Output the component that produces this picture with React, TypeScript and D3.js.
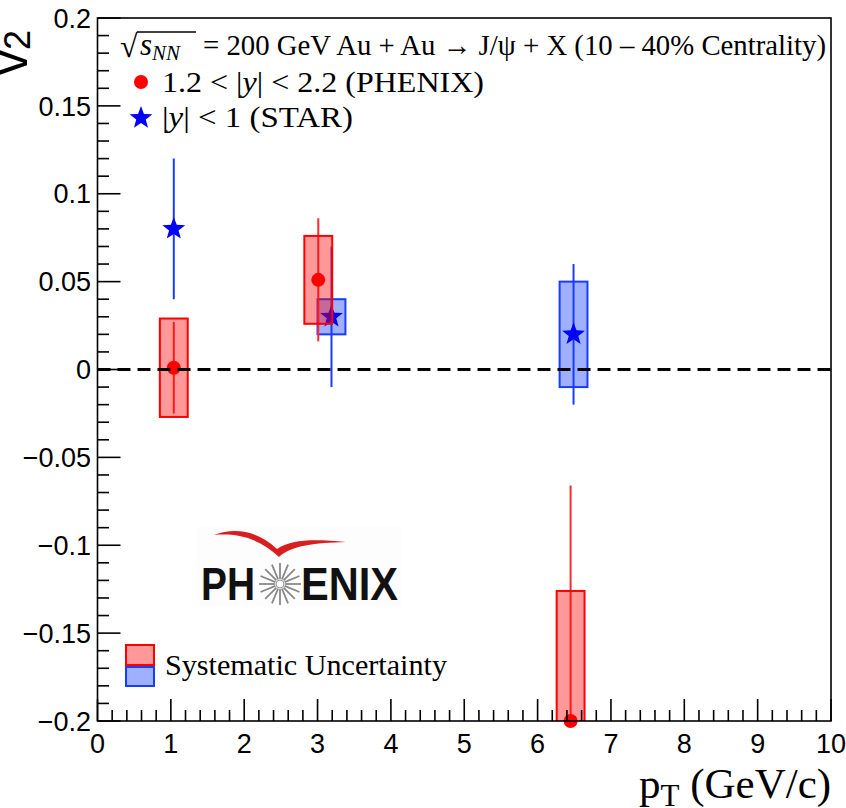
import React from "react";
import * as d3 from "d3";

// ---- data ----
const phenixPt = [1.04, 3.01, 6.45];
const phenixV2 = [0.001, 0.051, -0.2];
const phenixStat = [0.026, 0.035, 0.134];
const phenixSys = [0.028, 0.025, 0.074];

const starPt = [1.04, 3.19, 6.49];
const starV2 = [0.08, 0.03, 0.02];
const starStat = [0.04, 0.04, 0.04];
const starSys = [0, 0.01, 0.03];

const xDomain = [0, 10];
const yDomain = [-0.2, 0.2];

const titleText = "= 200 GeV Au + Au \u2192 J/\u03C8 + X (10 \u2013 40% Centrality)";
const phenixLabel = "(PHENIX)";
const starLabel = "(STAR)";
const sysLabel = "Systematic Uncertainty";
const xTitle = "(GeV/c)";

const W = 846;
const H = 808;
const L = 97.5, R = 831, T = 18, B = 721;
const BOX_HW = 0.19;

const sans = "'Liberation Sans', Arial, Helvetica, sans-serif";
const serif = "'Liberation Serif', 'Times New Roman', serif";

function starPath(cx: number, cy: number, ro: number, ri: number) {
  const pts: [number, number][] = [];
  for (let i = 0; i < 10; i++) {
    const r = i % 2 === 0 ? ro : ri;
    const a = -Math.PI / 2 + (i * Math.PI) / 5;
    pts.push([cx + r * Math.cos(a), cy + r * Math.sin(a)]);
  }
  return d3.line()(pts) + "Z";
}

export default function App() {
  const x = d3.scaleLinear().domain(xDomain).range([L, R]);
  const y = d3.scaleLinear().domain(yDomain).range([B, T]);

  const yMajor = y.ticks(8);
  const yMinor = y.ticks(40);
  const xMajor = x.ticks(10);
  const xMinor = x.ticks(50);
  const fmt = (v: number) => {
    const s = String(+v.toFixed(3));
    return s.startsWith("-") ? "\u2212" + s.slice(1) : s;
  };
  const isMajor = (v: number, step: number) => Math.abs(v / step - Math.round(v / step)) < 1e-6;

  const redFill = "rgba(255,0,0,0.4)";
  const blueFill = "rgba(40,80,255,0.45)";
  const blueLine = "#1a3cff";

  const spokes = d3.range(16).map((i) => (i * Math.PI * 2) / 16);

  return (
    <svg width={W} height={H} style={{ position: "absolute", left: 0, top: 0, background: "#fff" }}>
      <defs>
        <clipPath id="plotclip">
          <rect x={L} y={T} width={R - L} height={B - T} />
        </clipPath>
      </defs>
      <rect x={0} y={0} width={W} height={H} fill="#fff" />

      {/* PHENIX logo */}
      <g>
        <rect x={197} y={527} width={204} height={80} fill="#fdfdfd" />
        <path
          d="M214,535 C235,527 258,531 277,549 C291,539 315,539 346,542 C315,543 292,545 279,557 C258,537 235,533 214,535 Z"
          fill="#d81e1e"
        />
        <text x={201} y={600} fontFamily={sans} fontWeight="bold" fontSize={46} textLength={54} lengthAdjust="spacingAndGlyphs" fill="#111">PH</text>
        {spokes.map((a, i) => (
          <line key={i} x1={280 + 5 * Math.cos(a)} y1={584 + 5 * Math.sin(a)} x2={280 + 21 * Math.cos(a)} y2={584 + 21 * Math.sin(a)} stroke="#8a8a8a" strokeWidth={1.8} />
        ))}
        <circle cx={280} cy={584} r={4} fill="#fff" stroke="#999" strokeWidth={1} />
        <text x={301} y={600} fontFamily={sans} fontWeight="bold" fontSize={46} textLength={97} lengthAdjust="spacingAndGlyphs" fill="#111">ENIX</text>
      </g>

      {/* STAR (drawn first) */}
      <g clipPath="url(#plotclip)">
        {starPt.map((p, i) =>
          starSys[i] > 0 ? (
            <rect key={"sb" + i} x={x(p - BOX_HW)} y={y(starV2[i] + starSys[i])} width={x(p + BOX_HW) - x(p - BOX_HW)} height={y(starV2[i] - starSys[i]) - y(starV2[i] + starSys[i])} fill={blueFill} stroke={blueLine} strokeWidth={2} />
          ) : null
        )}
        {starPt.map((p, i) => (
          <line key={"se" + i} x1={x(p)} x2={x(p)} y1={y(starV2[i] + starStat[i])} y2={y(starV2[i] - starStat[i])} stroke={blueLine} strokeWidth={2} />
        ))}
      </g>
      {starPt.map((p, i) => (
        <path key={"sm" + i} d={starPath(x(p), y(starV2[i]), 12, 5)} fill="#0000ff" />
      ))}

      {/* PHENIX */}
      <g clipPath="url(#plotclip)">
        {phenixPt.map((p, i) => (
          <line key={"pe" + i} x1={x(p)} x2={x(p)} y1={y(phenixV2[i] + phenixStat[i])} y2={y(phenixV2[i] - phenixStat[i])} stroke="#ff2a2a" strokeWidth={2} />
        ))}
        {phenixPt.map((p, i) => (
          <rect key={"pb" + i} x={x(p - BOX_HW)} y={y(phenixV2[i] + phenixSys[i])} width={x(p + BOX_HW) - x(p - BOX_HW)} height={y(phenixV2[i] - phenixSys[i]) - y(phenixV2[i] + phenixSys[i])} fill={redFill} stroke="#ff0000" strokeWidth={2} />
        ))}
      </g>
      {phenixPt.map((p, i) => (
        <circle key={"pm" + i} cx={x(p)} cy={y(phenixV2[i])} r={7} fill="#ff0000" />
      ))}

      {/* zero line */}
      <line x1={L} x2={R} y1={y(0)} y2={y(0)} stroke="#000" strokeWidth={3} strokeDasharray="13 7" />

      {/* frame */}
      <rect x={L} y={T} width={R - L} height={B - T} fill="none" stroke="#000" strokeWidth={1.6} />

      {/* y ticks */}
      {yMinor.map((v, i) => {
        const len = isMajor(v, 0.05) ? 23 : 11.5;
        return <line key={"yt" + i} x1={L} x2={L + len} y1={y(v)} y2={y(v)} stroke="#000" strokeWidth={1.6} />;
      })}
      {yMajor.map((v, i) => (
        <text key={"yl" + i} x={91} y={y(v)} dy="0.36em" textAnchor="end" fontFamily={sans} fontSize={27} fill="#000">{fmt(v)}</text>
      ))}

      {/* x ticks */}
      {xMinor.map((v, i) => {
        const len = isMajor(v, 1) ? 22 : 11;
        return <line key={"xt" + i} x1={x(v)} x2={x(v)} y1={B} y2={B - len} stroke="#000" strokeWidth={1.6} />;
      })}
      {xMajor.map((v, i) => (
        <text key={"xl" + i} x={x(v)} y={753} textAnchor="middle" fontFamily={sans} fontSize={27} fill="#000">{fmt(v)}</text>
      ))}

      {/* axis titles */}
      <text x={639} y={798} fontFamily={serif} fontSize={43} fill="#000">
        p<tspan fontSize={31} dy={8}>T</tspan>
        <tspan dy={-8}> {xTitle}</tspan>
      </text>
      <text transform="translate(27,30) rotate(-90)" textAnchor="end" fontFamily={sans} fontSize={50} fill="#000">
        v<tspan fontSize={36} dy={3}>2</tspan>
      </text>

      {/* legend title */}
      <text x={120} y={57} fontFamily={serif} fontSize={32} fill="#000">{"\u221A"}</text>
      <line x1={137} x2={196} y1={32} y2={32} stroke="#000" strokeWidth={1.4} />
      <text x={140} y={55} fontFamily={serif} fontStyle="italic" fontSize={31} fill="#000">
        s<tspan fontSize={21} dy={5}>NN</tspan>
      </text>
      <text x={203} y={55} fontFamily={serif} fontSize={30} textLength={623} lengthAdjust="spacingAndGlyphs" fill="#000">{titleText}</text>

      {/* legend entries */}
      <circle cx={141} cy={82} r={7} fill="#ff0000" />
      <text x={162} y={92} fontFamily={serif} fontSize={30} textLength={322} lengthAdjust="spacingAndGlyphs" fill="#000">
        1.2 &lt; |<tspan fontStyle="italic">y</tspan>| &lt; 2.2 {phenixLabel}
      </text>
      <path d={starPath(141, 118, 12, 5)} fill="#0000ff" />
      <text x={162} y={127} fontFamily={serif} fontSize={30} textLength={191} lengthAdjust="spacingAndGlyphs" fill="#000">
        |<tspan fontStyle="italic">y</tspan>| &lt; 1 {starLabel}
      </text>

      {/* systematic legend */}
      <rect x={126} y={645} width={28} height={20} fill={redFill} stroke="#ff0000" strokeWidth={2} />
      <rect x={126} y={667} width={28} height={19} fill={blueFill} stroke={blueLine} strokeWidth={2} />
      <text x={165} y={675} fontFamily={serif} fontSize={29} textLength={282} lengthAdjust="spacingAndGlyphs" fill="#000">{sysLabel}</text>
    </svg>
  );
}
